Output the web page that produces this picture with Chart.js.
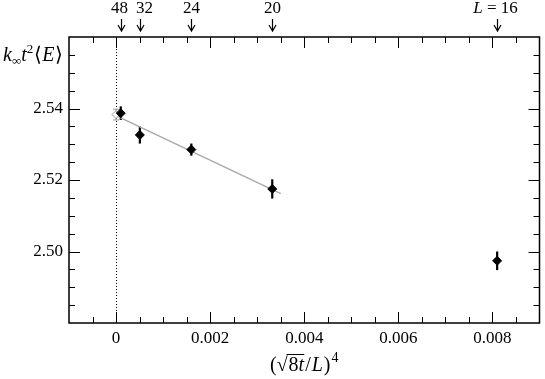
<!DOCTYPE html>
<html lang="en">
<head>
<meta charset="UTF-8">
<title>k t^2 E vs (sqrt(8t)/L)^4</title>
<script src="https://cdn.jsdelivr.net/npm/chart.js"></script>
<style>
  html, body { margin: 0; padding: 0; background: #fff; }
</style>
</head>
<body>
<canvas id="chart" width="545" height="379"></canvas>
<script>
// lattice sizes and measured values
const sizes = [48, 32, 24, 20, 16];
const xVals = [0.0001, 0.000506, 0.0016, 0.00332, 0.0081];
const yVals = [2.5387, 2.5326, 2.5285, 2.5175, 2.4974];
const yErrs = [0.0019, 0.0024, 0.0017, 0.0027, 0.0026];
// linear fit and continuum extrapolation
const fitX = [0, 0.0035];
const fitY = [2.538, 2.5162];
const extrapX = [0];
const extrapY = [2.5383];
const extrapErr = [0.0015];
// labelled ticks
const xLabels = [0, 0.002, 0.004, 0.006, 0.008];
const yLabels = [2.50, 2.52, 2.54];

const SERIF = '"Liberation Serif", "Times New Roman", Times, serif';

function isLabel(list, v) {
  return list.some(l => Math.abs(l - v) < 1e-9);
}

// draw a run of text pieces (italic / sub / superscript) starting at x
function drawRun(ctx, parts, x, y, align) {
  let w = 0;
  parts.forEach(p => {
    ctx.font = (p.it ? 'italic ' : '') + p.size + 'px ' + SERIF;
    p.w = ctx.measureText(p.t).width;
    w += p.w + (p.gap || 0);
  });
  let cx = align === 'center' ? x - w / 2 : x;
  ctx.textAlign = 'left';
  ctx.textBaseline = 'alphabetic';
  parts.forEach(p => {
    ctx.font = (p.it ? 'italic ' : '') + p.size + 'px ' + SERIF;
    p.x = cx;
    ctx.fillText(p.t, cx, y + (p.dy || 0));
    cx += p.w + (p.gap || 0);
  });
  return parts;
}

const decorPlugin = {
  id: 'decor',
  beforeDatasetsDraw(chart) {
    const { ctx, chartArea: a, scales: { x, y } } = chart;
    ctx.save();
    // dotted line at x = 0
    ctx.strokeStyle = '#000';
    ctx.lineWidth = 1;
    ctx.setLineDash([1, 2]);
    const x0 = Math.round(x.getPixelForValue(0)) + 0.5;
    ctx.beginPath();
    ctx.moveTo(x0, a.top);
    ctx.lineTo(x0, a.bottom);
    ctx.stroke();
    ctx.setLineDash([]);
    // error bars
    ctx.lineWidth = 2.2;
    xVals.forEach((v, i) => {
      const px = x.getPixelForValue(v);
      ctx.beginPath();
      ctx.moveTo(px, y.getPixelForValue(yVals[i] - yErrs[i]));
      ctx.lineTo(px, y.getPixelForValue(yVals[i] + yErrs[i]));
      ctx.stroke();
    });
    ctx.strokeStyle = '#999';
    ctx.lineWidth = 1;
    extrapX.forEach((v, i) => {
      const px = x.getPixelForValue(v);
      const lo = y.getPixelForValue(extrapY[i] - extrapErr[i]);
      const hi = y.getPixelForValue(extrapY[i] + extrapErr[i]);
      ctx.beginPath();
      ctx.moveTo(px, lo); ctx.lineTo(px, hi);
      ctx.moveTo(px - 3, lo); ctx.lineTo(px + 3, lo);
      ctx.moveTo(px - 3, hi); ctx.lineTo(px + 3, hi);
      ctx.stroke();
    });
    ctx.restore();
  },
  afterDraw(chart) {
    const { ctx, chartArea: a, scales: { x, y } } = chart;
    ctx.save();
    ctx.strokeStyle = '#000';
    ctx.fillStyle = '#000';
    // frame
    ctx.lineWidth = 1.5;
    ctx.strokeRect(a.left, a.top, a.right - a.left, a.bottom - a.top);
    // inward ticks on all four sides
    ctx.lineWidth = 1;
    ctx.beginPath();
    x.ticks.forEach(t => {
      const px = Math.round(x.getPixelForValue(t.value)) + 0.5;
      const major = Math.abs(t.value / 0.002 - Math.round(t.value / 0.002)) < 1e-6;
      const len = major ? 11 : 6;
      if (px <= a.left + 1 || px >= a.right - 1) return;
      ctx.moveTo(px, a.bottom); ctx.lineTo(px, a.bottom - len);
      ctx.moveTo(px, a.top); ctx.lineTo(px, a.top + len);
    });
    y.ticks.forEach(t => {
      const py = Math.round(y.getPixelForValue(t.value)) + 0.5;
      const major = Math.abs(t.value / 0.02 - Math.round(t.value / 0.02)) < 1e-6;
      const len = major ? 11 : 6;
      if (py <= a.top + 1 || py >= a.bottom - 1) return;
      ctx.moveTo(a.left, py); ctx.lineTo(a.left + len, py);
      ctx.moveTo(a.right, py); ctx.lineTo(a.right - len, py);
    });
    ctx.stroke();

    // lattice size markers along the top (labels nudged apart where crowded)
    const nudge = [-2, 4, 0, 0, -2];
    ctx.lineWidth = 1.2;
    sizes.forEach((L, i) => {
      const px = Math.round(x.getPixelForValue(xVals[i])) + 0.5;
      ctx.beginPath();
      ctx.moveTo(px, 19); ctx.lineTo(px, 31);
      ctx.moveTo(px - 3.5, 25); ctx.lineTo(px, 31); ctx.lineTo(px + 3.5, 25);
      ctx.stroke();
      if (i === sizes.length - 1) {
        drawRun(ctx, [
          { t: 'L', it: true, size: 17 },
          { t: ' = ', size: 17 },
          { t: String(L), size: 17 }
        ], px + nudge[i], 13, 'center');
      } else {
        drawRun(ctx, [{ t: String(L), size: 17 }], px + nudge[i], 13, 'center');
      }
    });

    // y axis title
    drawRun(ctx, [
      { t: 'k', it: true, size: 20 },
      { t: '\u221E', size: 13, dy: 4 },
      { t: 't', it: true, size: 20 },
      { t: '2', size: 13, dy: -8, gap: 1 },
      { t: '\u27E8', size: 20 },
      { t: 'E', it: true, size: 20, gap: 1 },
      { t: '\u27E9', size: 20 }
    ], 3, 61, 'left');

    // x axis title
    const parts = drawRun(ctx, [
      { t: '(', size: 20 },
      { t: '\u221A', size: 20, gap: 1 },
      { t: '8', size: 20 },
      { t: 't', it: true, size: 20, gap: 1 },
      { t: '/', size: 20, gap: 1 },
      { t: 'L', it: true, size: 20, gap: 1 },
      { t: ')', size: 20, gap: 1 },
      { t: '4', size: 14, dy: -9 }
    ], (a.left + a.right) / 2, 371, 'center');
    ctx.lineWidth = 1;
    ctx.beginPath();
    ctx.moveTo(parts[1].x + parts[1].w - 1, 354.5);
    ctx.lineTo(parts[3].x + parts[3].w, 354.5);
    ctx.stroke();
    ctx.restore();
  }
};

function build() {
  new Chart(document.getElementById('chart'), {
    type: 'scatter',
    data: {
      datasets: [
        {
          data: xVals.map((v, i) => ({ x: v, y: yVals[i] })),
          pointStyle: 'rectRot',
          pointRadius: 4.5,
          pointBackgroundColor: '#000',
          pointBorderColor: '#000',
          pointBorderWidth: 1
        },
        {
          data: extrapX.map((v, i) => ({ x: v, y: extrapY[i] })),
          pointStyle: 'rectRot',
          pointRadius: 4,
          pointBackgroundColor: '#fff',
          pointBorderColor: '#999',
          pointBorderWidth: 1
        },
        {
          type: 'line',
          data: fitX.map((v, i) => ({ x: v, y: fitY[i] })),
          borderColor: '#a8a8a8',
          borderWidth: 1.3,
          pointRadius: 0,
          fill: false
        }
      ]
    },
    options: {
      responsive: false,
      animation: false,
      devicePixelRatio: 1,
      layout: { padding: { top: 37, right: 4, left: 0, bottom: 0 } },
      plugins: { legend: { display: false }, tooltip: { enabled: false } },
      scales: {
        x: {
          type: 'linear',
          min: -0.001,
          max: 0.009,
          afterFit: s => { s.height = 56; },
          grid: { display: false, drawTicks: false },
          border: { display: false },
          ticks: {
            stepSize: 0.0005,
            autoSkip: false,
            maxRotation: 0,
            padding: 5,
            color: '#000',
            font: { family: SERIF, size: 17 },
            callback: v => isLabel(xLabels, v) ? (Math.abs(v) < 1e-12 ? '0' : v.toFixed(3)) : ''
          }
        },
        y: {
          type: 'linear',
          min: 2.48,
          max: 2.56,
          afterFit: s => { s.width = 69; },
          grid: { display: false, drawTicks: false },
          border: { display: false },
          ticks: {
            stepSize: 0.005,
            autoSkip: false,
            padding: 6,
            color: '#000',
            font: { family: SERIF, size: 17 },
            callback: v => isLabel(yLabels, v) ? v.toFixed(2) : ''
          }
        }
      }
    },
    plugins: [decorPlugin]
  });
}

Promise.all([
  document.fonts.load('17px "Liberation Serif"'),
  document.fonts.load('italic 17px "Liberation Serif"')
]).then(build, build);
</script>
</body>
</html>
